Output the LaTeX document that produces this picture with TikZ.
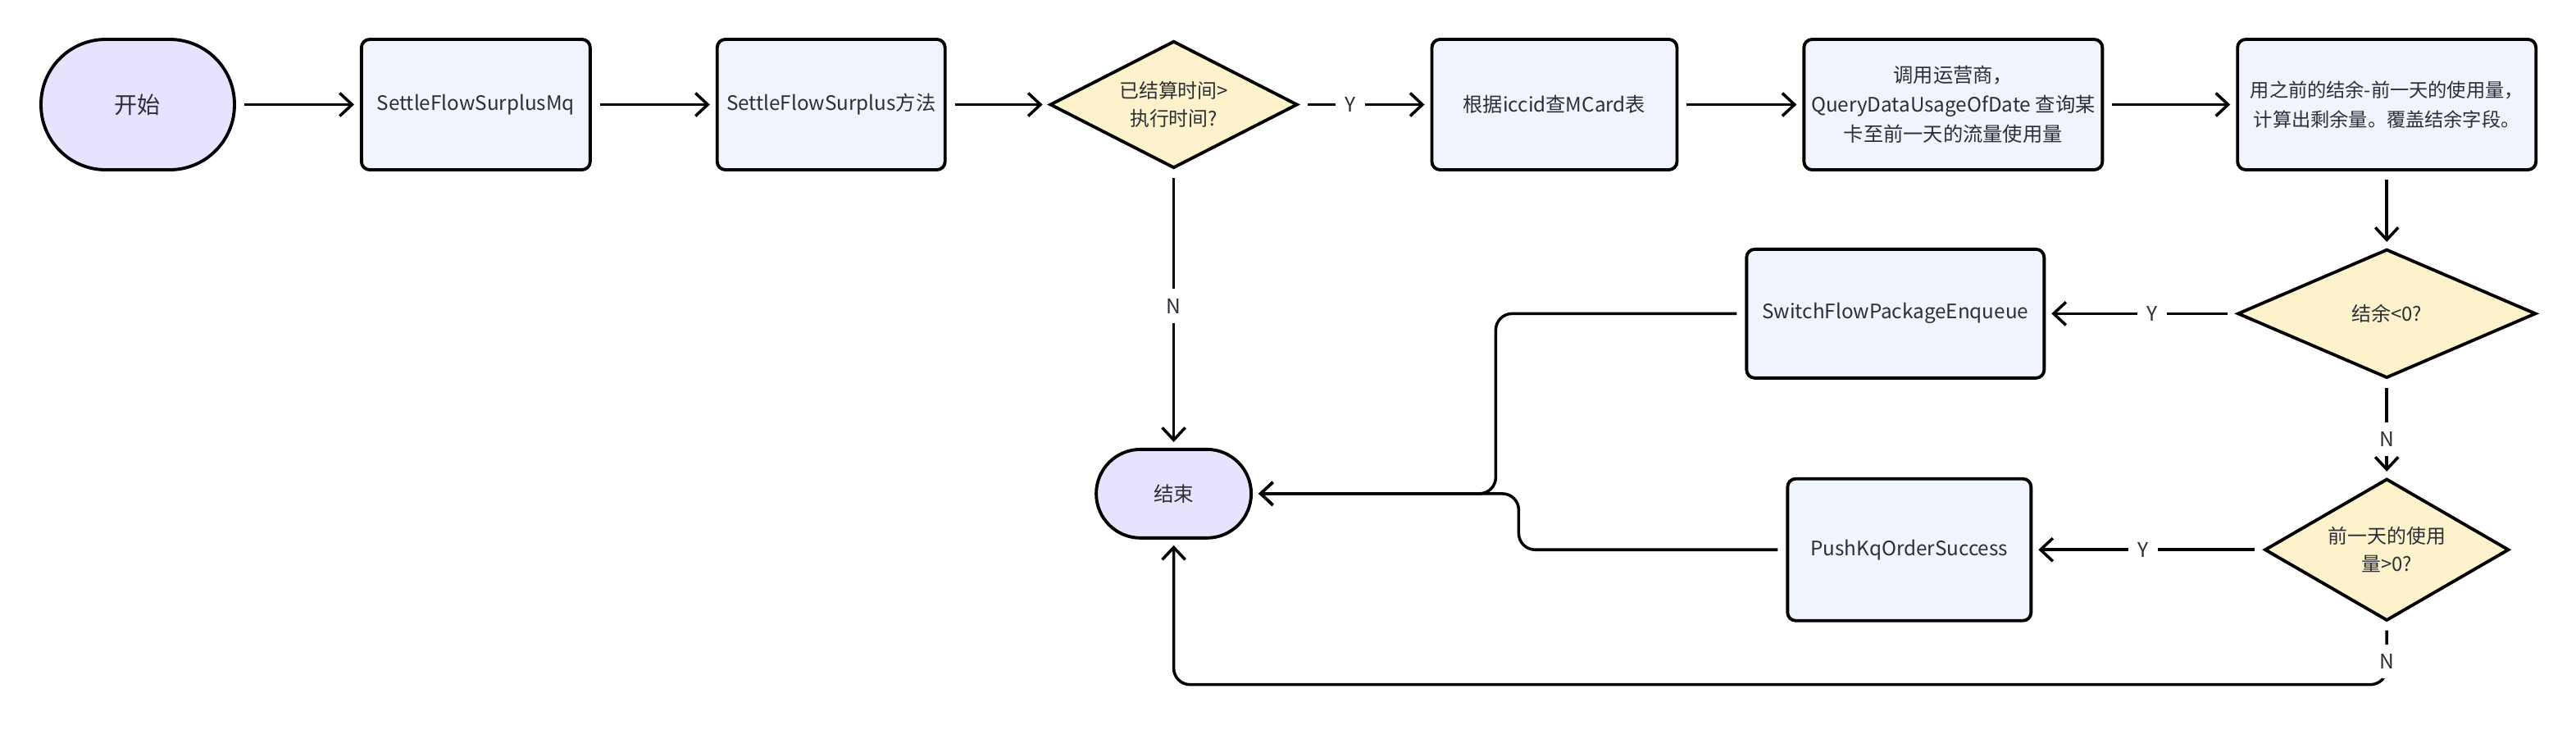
\documentclass[tikz,border=0pt]{standalone}
\usepackage{fontspec}
\setmainfont{Noto Sans CJK SC}
\usepackage{tikz}
\usepackage{xcolor}
\usetikzlibrary{shapes}
\usetikzlibrary{positioning, arrows.meta}

\definecolor{termfill}{HTML}{E9E2FE}
\definecolor{procfill}{HTML}{EFF4FD}
\definecolor{condfill}{HTML}{FEF2CD}
\definecolor{txt}{HTML}{2B2F36}

\begin{document}
\begin{tikzpicture}[node distance={15.1mm}, line width=1pt,
    term/.style = {draw, line width=1.1pt, fill=termfill, text=txt, font=\fontsize{7pt}{10pt}\selectfont},
    proc/.style = {draw, rounded corners=1mm, line width=1.1pt, fill=procfill, text=txt, align=center, inner xsep=0.8mm, minimum height=15.9mm, font=\fontsize{6.9pt}{10.2pt}\selectfont},
    cond/.style = {draw, diamond, shape aspect=2, inner sep=0pt, line width=1.1pt, fill=condfill, text=txt, align=center, font=\fontsize{6.8pt}{9.5pt}\selectfont},
    lbl/.style = {fill=white, text=txt, font=\fontsize{7pt}{9pt}\selectfont},
    arr/.style = {-{Straight Barb[length=1.5mm, width=2.8mm]}, shorten <=1mm, shorten >=0.7mm}]
    \useasboundingbox (-1.68,1.275) rectangle ++(31.42,-9.00);
    \node[term, rounded corners=7.9mm, minimum width=23.6mm, minimum height=15.9mm, font=\fontsize{8pt}{10pt}\selectfont] (start) {开始};
    \node[proc, minimum width=27.9mm] (mq) [right=of start] {SettleFlowSurplusMq};
    \node[proc, minimum width=27.8mm] (method) [right=of mq] {SettleFlowSurplus方法};
    \node[cond, minimum width=30.2mm, minimum height=15.5mm] (chk1) [right=12.4mm of method] {已结算时间>\\执行时间?};
    \node[proc, minimum width=29.9mm] (card) [right=16mm of chk1] {根据iccid查MCard表};
    \node[proc, minimum width=36.4mm] (query) [right=of card] {调用运营商，\\QueryDataUsageOfDate 查询某\\卡至前一天的流量使用量};
    \node[proc, minimum width=36.4mm, font=\fontsize{6.6pt}{10.2pt}\selectfont] (calc) [right=16.1mm of query] {用之前的结余-前一天的使用量，\\计算出剩余量。覆盖结余字段。};
    \node[cond, minimum width=36.4mm, minimum height=15.7mm] (chk2) [below=9.3mm of calc] {结余<0?};
    \node[proc, minimum width=36.3mm, minimum height=15.7mm] (switch) [left=23.2mm of chk2] {SwitchFlowPackageEnqueue};
    \node[cond, minimum width=29.8mm, minimum height=17.3mm] (chk3) [below=11.9mm of chk2] {前一天的使用\\量>0?};
    \node[proc, minimum width=29.7mm, minimum height=17.3mm] (push) [left=28.1mm of chk3] {PushKqOrderSuccess};
    \node[term, rounded corners=5.4mm, minimum width=18.9mm, minimum height=10.8mm] (end) [below=33.9mm of chk1] {结束};
    \draw[arr] (start) -- (mq);
    \draw[arr] (mq) -- (method);
    \draw[arr] (method) -- (chk1);
    \draw[arr] (chk1) -- node[lbl, pos=0.39] {Y} (card);
    \draw[arr] (card) -- (query);
    \draw[arr] (query) -- (calc);
    \draw[arr] (chk1) -- node[lbl, pos=0.49] {N} (end);
    \draw[arr] (calc) -- (chk2);
    \draw[arr] (chk2) -- node[lbl, pos=0.44] {Y} (switch);
    \draw[arr] (chk2) -- node[lbl, pos=0.61] {N} (chk3);
    \draw[arr] (chk3) -- node[lbl, pos=0.52] {Y} (push);
    \draw[arr, rounded corners=2mm] (switch.west) -- ++(-3.04,0) |- (end.east);
    \draw[arr, rounded corners=2mm] (push.west) -- ++(-3.26,0) |- (end.east);
    \draw[arr, rounded corners=2mm] (chk3.south) -- node[lbl, pos=0.63] {N} ++(0,-0.76) -| (end.south);
\end{tikzpicture}
\end{document}
